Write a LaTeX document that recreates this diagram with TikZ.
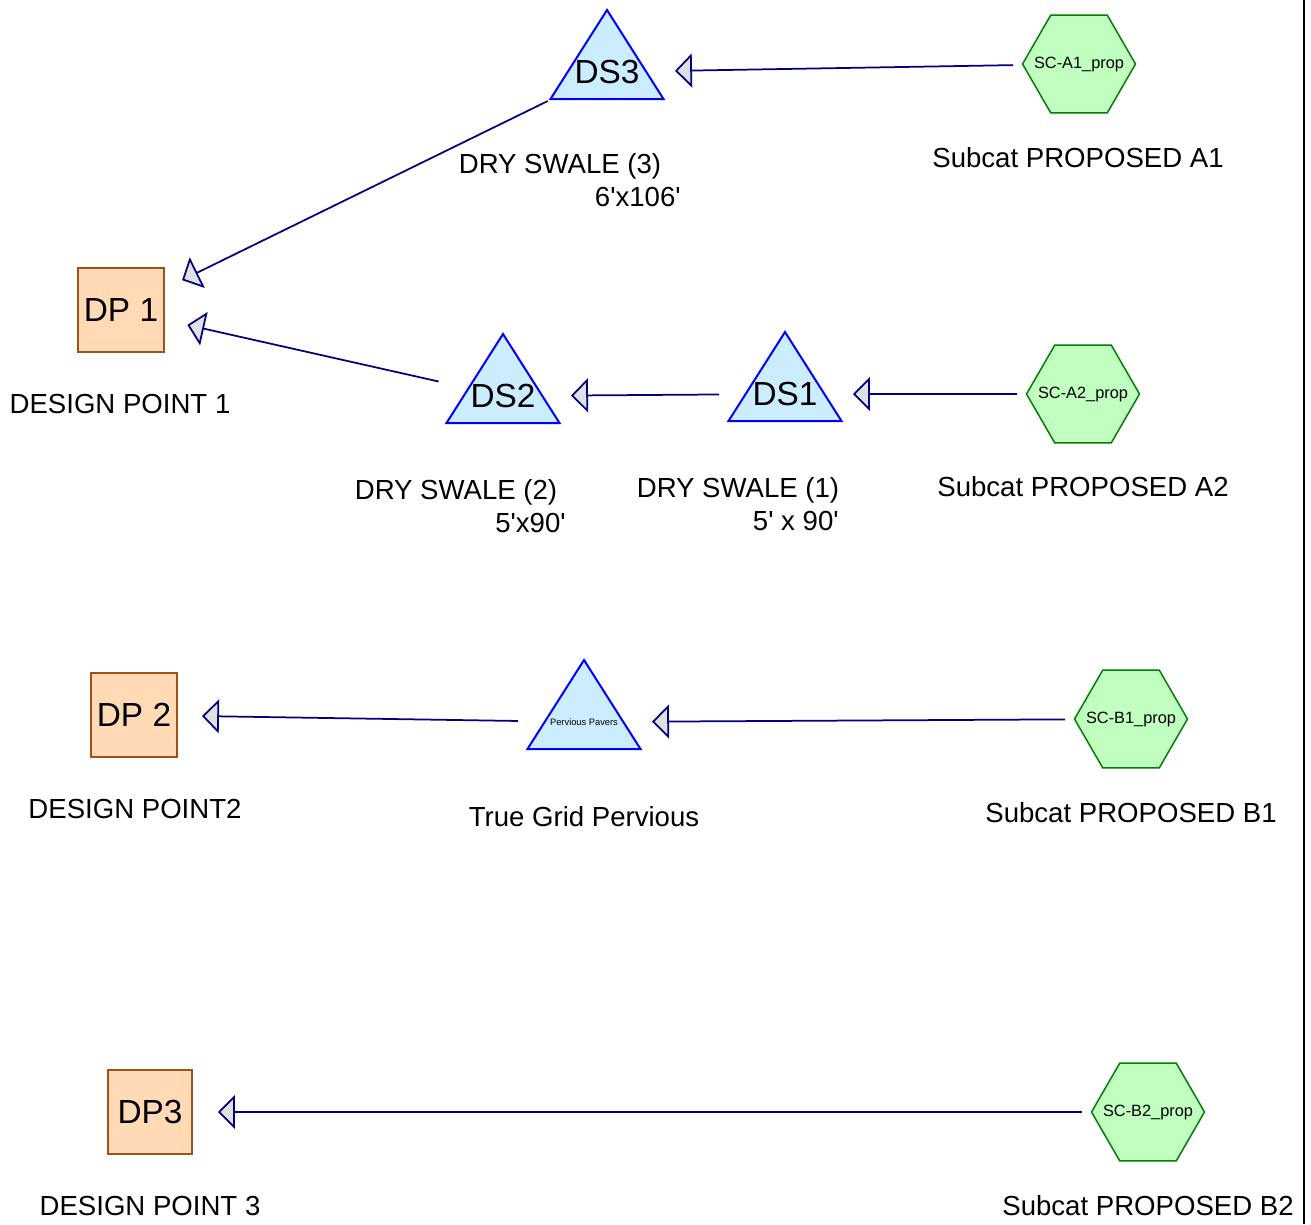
\documentclass[tikz,border=0pt]{standalone}
\usepackage{fontspec}
\setmainfont{Liberation Sans}
\usetikzlibrary{shapes.geometric,arrows.meta}
\definecolor{swalefill}{RGB}{204,236,255}
\definecolor{subfill}{RGB}{192,255,192}
\definecolor{subline}{RGB}{0,128,0}
\definecolor{dpfill}{RGB}{255,218,180}
\definecolor{dpline}{RGB}{160,82,20}
\definecolor{flowline}{RGB}{0,0,128}
\definecolor{tipfill}{RGB}{224,224,224}
% triangle behind a named text node: name, x, y, text
\newcommand{\swalenode}[4]{%
  \draw[swaletri] (#2,#3-62)--(#2+56.5,#3+27)--(#2-56.5,#3+27)--cycle;
  \node[swaletxt] (#1) at (#2,#3) {#4};}
\begin{document}
\begin{tikzpicture}[x=0.02cm,y=-0.02cm,
    swaletri/.style={draw=blue, line width=0.04cm, fill=swalefill, line join=miter},
    swaletxt/.style={inner sep=0pt, font=\fontsize{19}{22}\selectfont},
    subcat/.style={regular polygon, regular polygon sides=6, minimum size=2.26cm, inner sep=0pt, draw=subline, line width=0.03cm, fill=subfill, font=\fontsize{9.3}{11}\selectfont},
    dpbox/.style={rectangle, minimum size=1.68cm, draw=dpline, line width=0.03cm, fill=dpfill, font=\fontsize{19}{22}\selectfont},
    lbl/.style={font=\fontsize{15.7}{18}\selectfont, inner sep=0pt},
    flow/.style={draw=flowline, line width=0.035cm, shorten <=1.32cm, shorten >=1.36cm, -{Triangle[length=0.34cm,width=0.68cm,fill=tipfill]}}]
\useasboundingbox (0,0) rectangle (1311,1224);
\draw[line width=0.05cm] (1304,0)--(1304,1224);

% design points
\node[dpbox] (dp1) at (121,310) {DP 1};
\node[dpbox] (dp2) at (134,715) {DP 2};
\node[dpbox] (dp3) at (150,1112) {DP3};
\node[lbl] (dp1lbl) at (120,404) {DESIGN POINT 1};
\node[lbl] (dp2lbl) at (135,809) {DESIGN POINT2};
\node[lbl] (dp3lbl) at (150,1206) {DESIGN POINT 3};

% swales
\swalenode{ds3}{607}{72}{DS3}
\swalenode{ds2}{503}{396}{DS2}
\swalenode{ds1}{785}{394}{DS1}
\swalenode{pp}{584}{722}{\fontsize{5.3}{6}\selectfont Pervious Pavers}
\node[lbl] (ds3lbl) at (560,166) {DRY SWALE (3)};\node[lbl,anchor=east] (ds3sz) at (681,197) {6\textquotesingle x106\textquotesingle};
\node[lbl] (ds2lbl) at (456,492) {DRY SWALE (2)};\node[lbl,anchor=east] (ds2sz) at (566,523) {5\textquotesingle x90\textquotesingle};
\node[lbl] (ds1lbl) at (738,490) {DRY SWALE (1)};\node[lbl,anchor=east] (ds1sz) at (839,521) {5\textquotesingle{} x 90\textquotesingle};
\node[lbl] (pplbl) at (584,817) {True Grid Pervious};

% subcatchments
\node[subcat] (sca1) at (1079,64) {\makebox[0pt]{SC-A1\_prop}};
\node[subcat] (sca2) at (1083,394) {\makebox[0pt]{SC-A2\_prop}};
\node[subcat] (scb1) at (1131,719) {\makebox[0pt]{SC-B1\_prop}};
\node[subcat] (scb2) at (1148,1112) {\makebox[0pt]{SC-B2\_prop}};
\node[lbl] (sca1lbl) at (1078,158) {Subcat PROPOSED A1};
\node[lbl] (sca2lbl) at (1083,487) {Subcat PROPOSED A2};
\node[lbl] (scb1lbl) at (1131,813) {Subcat PROPOSED B1};
\node[lbl] (scb2lbl) at (1148,1206) {Subcat PROPOSED B2};

% flow links
\draw[flow] (sca1.center)--(ds3.center);
\draw[flow] (ds3.center)--(dp1.center);
\draw[flow] (ds2.center)--(dp1.center);
\draw[flow] (ds1.center)--(ds2.center);
\draw[flow] (sca2.center)--(ds1.center);
\draw[flow] (pp.center)--(dp2.center);
\draw[flow] (scb1.center)--(pp.center);
\draw[flow] (scb2.center)--(dp3.center);

\end{tikzpicture}
\end{document}
